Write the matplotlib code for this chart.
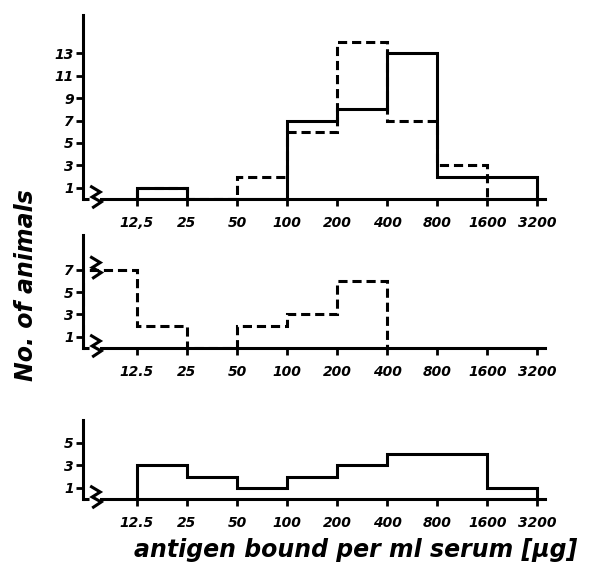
import matplotlib
matplotlib.use("Agg")
import matplotlib.pyplot as plt
from matplotlib.font_manager import FontProperties

# bin edges (ug antigen bound per ml serum)
edges = [12.5, 25, 50, 100, 200, 400, 800, 1600, 3200]
tick_labels_top = ["12,5", "25", "50", "100", "200", "400", "800", "1600", "3200"]
tick_labels = ["12.5", "25", "50", "100", "200", "400", "800", "1600", "3200"]

# panel 1
p1_solid = [1, 0, 0, 7, 8, 13, 2, 2]
p1_dashed = [1, 0, 2, 6, 14, 7, 3]
# panel 2 (first bin is the open bin below 12.5)
p2_dashed = [7, 2, 0, 2, 3, 6]
# panel 3
p3_solid = [3, 2, 1, 2, 3, 4, 4, 1]

x_left = 12.5 * 2 ** (-1.08)
x_right = 3200 * 2 ** (0.15)
x_gap0 = 12.5 * 2 ** (-0.95)   # baseline stops before the break mark
x_gap1 = 12.5 * 2 ** (-0.72)   # and starts again after it
x_zig = 12.5 * 2 ** (-0.93)

LW = 2.2
DASH = (0, (3, 1.6))
tick_font = FontProperties(family=["Liberation Sans Narrow", "DejaVu Sans"],
                           style="italic", weight="bold", size=10)
label_font = FontProperties(family=["DejaVu Sans"], style="italic",
                            weight="bold", size=17)

fig = plt.figure(figsize=(5.89, 5.67), dpi=100)

left = 82.7 / 589
width = (545 - 82.7) / 589
H = 567.0
panels = [
    ((H - 199) / H, 184 / H, 184 / 11.2),
    ((H - 348) / H, 113 / H, 113 / 11.2),
    ((H - 499) / H, 79 / H, 79 / 11.2),
]


def style_axis(ax, ytop, yticks, xlabels):
    ax.set_xscale("log", base=2)
    ax.set_xlim(x_left, x_right)
    ax.set_ylim(0, ytop)
    for s in ["top", "right"]:
        ax.spines[s].set_visible(False)
    for s in ["left", "bottom"]:
        ax.spines[s].set_linewidth(LW)
        ax.spines[s].set_capstyle("projecting")
    ax.spines["bottom"].set_bounds(x_gap1, x_right)
    ax.plot([x_left, x_gap0], [0, 0], color="black", lw=LW, clip_on=False,
            solid_capstyle="butt")
    ax.set_xticks(edges)
    ax.set_xticklabels(xlabels, fontproperties=tick_font)
    ax.minorticks_off()
    ax.set_yticks(yticks)
    ax.set_yticklabels([str(v) for v in yticks], fontproperties=tick_font)
    ax.tick_params(axis="x", length=5, width=2, pad=7, direction="out")
    ax.tick_params(axis="y", length=5, width=2, pad=1.5, direction="out")
    ax.patch.set_alpha(0)


def zigzag(ax, y):
    # axis break mark near the y axis, offsets in pixels
    pts = [(0, -13), (10, -7), (2, -2), (11, 3), (2, 9)]
    px0, py0 = ax.transData.transform((x_zig, y))
    disp = [(px0 + dx, py0 - dy) for dx, dy in pts]
    data = ax.transData.inverted().transform(disp)
    ax.plot(data[:, 0], data[:, 1], color="black", lw=2.2, clip_on=False,
            solid_joinstyle="miter", solid_capstyle="butt")


# panel 1
b, h, ytop = panels[0]
ax1 = fig.add_axes([left, b, width, h])
style_axis(ax1, ytop, [1, 3, 5, 7, 9, 11, 13], tick_labels_top)
ax1.stairs(p1_dashed, edges[:len(p1_dashed) + 1], color="black", lw=LW,
           linestyle=DASH, baseline=0)
ax1.stairs(p1_solid, edges, color="black", lw=LW, baseline=0)

# panel 2
b, h, ytop = panels[1]
ax2 = fig.add_axes([left, b, width, h])
style_axis(ax2, ytop, [1, 3, 5, 7], tick_labels)
ax2.stairs(p2_dashed, [x_left] + edges[:len(p2_dashed)], color="black", lw=LW,
           linestyle=DASH, baseline=0)

# panel 3
b, h, ytop = panels[2]
ax3 = fig.add_axes([left, b, width, h])
style_axis(ax3, ytop, [1, 3, 5], tick_labels)
ax3.stairs(p3_solid, edges, color="black", lw=LW, baseline=0)

fig.canvas.draw()
zigzag(ax1, 0)
zigzag(ax2, 0)
zigzag(ax2, 7)
zigzag(ax3, 0)

fig.text(356 / 589, 1 - 557 / H, "antigen bound per ml serum [\u00b5g]",
         ha="center", va="baseline", fontproperties=label_font)
fig.text(26 / 589, 1 - 285 / H, "No. of animals", rotation=90,
         ha="center", va="center", fontproperties=label_font)

fig.savefig("out.png", dpi=100)
